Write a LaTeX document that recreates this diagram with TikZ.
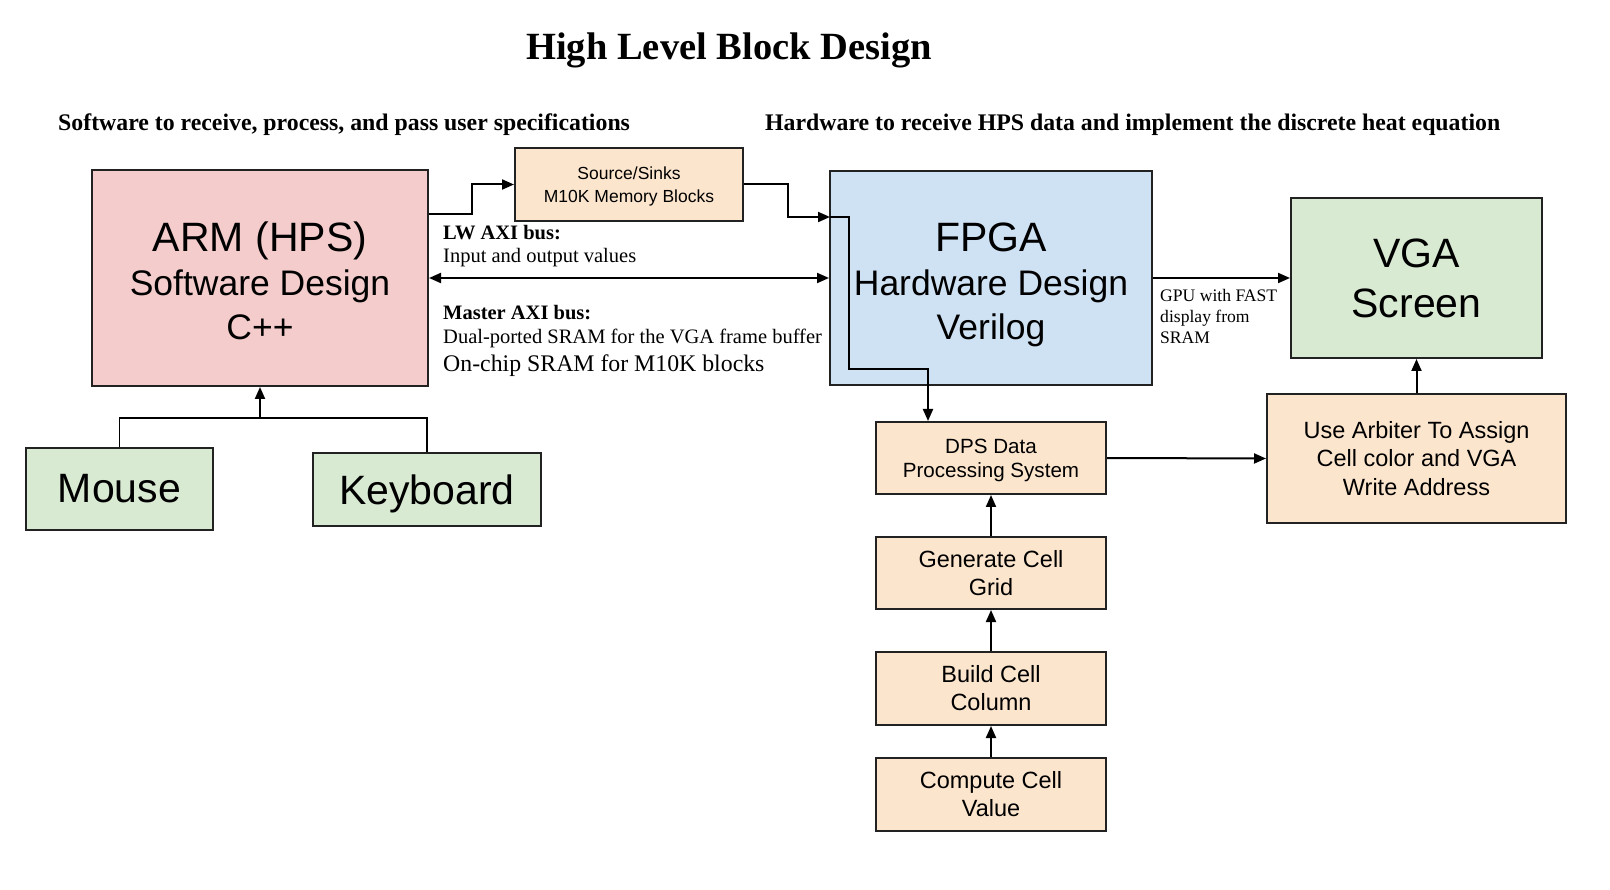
\documentclass[tikz,border=0pt]{standalone}
\usepackage{fontspec}
\setmainfont{Liberation Serif}
\newfontfamily\arial{Liberation Sans}
\usetikzlibrary{arrows.meta}
\newcommand{\fsz}[2]{\fontsize{#1}{#2}\selectfont}
\definecolor{pinkF}{HTML}{F4CCCC}
\definecolor{blueF}{HTML}{CFE2F3}
\definecolor{greenF}{HTML}{D9EAD3}
\definecolor{orangeF}{HTML}{FCE5CD}
\definecolor{edge}{HTML}{222222}
\begin{document}
\begin{tikzpicture}[x=1pt,y=-1pt,
  box/.style={draw=edge, line width=2pt, align=center, inner sep=0pt},
  conn/.style={draw=black, line width=2pt},
  thinconn/.style={draw=black, line width=1.6pt},
  arr/.style={conn, -{Triangle[length=12pt,width=10pt]}},
  biarr/.style={conn, {Triangle[length=12pt,width=10pt]}-{Triangle[length=12pt,width=10pt]}},
  lbl/.style={inner sep=0pt, anchor=west, align=left},
  boxtext/.style={inner sep=0pt, align=center}
]
\useasboundingbox (0,0) rectangle (1610,890);

% titles
\node[inner sep=0pt, font=\fsz{38.5}{44}\bfseries] (title) at (729,50) {High Level Block Design};
\node[lbl, font=\fsz{23.8}{28}\bfseries] (subL) at (58,125) {Software to receive, process, and pass user specifications};
\node[lbl, font=\fsz{23.8}{28}\bfseries] (subR) at (765,125) {Hardware to receive HPS data and implement the discrete heat equation};

% boxes
\node[box, fill=pinkF, minimum width=336pt, minimum height=216pt] (ARM) at (260,278) {};
\node[boxtext, font=\arial\fsz{35.5}{44}] (ARMt) at ([yshift=-3pt]ARM.center)
  {{\fsz{41}{45}ARM (HPS)}\\Software Design\\C++};
\node[box, fill=orangeF, minimum width=228pt, minimum height=73pt, font=\arial\fsz{17.5}{23}, text depth=0pt] (Src) at (629,184.5)
  {Source/Sinks\\M10K Memory Blocks};
\node[box, fill=blueF, minimum width=322pt, minimum height=214pt] (FPGA) at (991,278) {};
\node[boxtext, font=\arial\fsz{35.5}{44}] (FPGAt) at ([yshift=-7pt]FPGA.center)
  {{\fsz{41}{45}FPGA}\\Hardware Design\\Verilog};
\node[box, fill=greenF, minimum width=251pt, minimum height=160pt, font=\arial\fsz{41}{50}] (VGA) at (1416.5,278)
  {VGA\\Screen};
\node[box, fill=orangeF, minimum width=299pt, minimum height=129pt, font=\arial\fsz{23.5}{28.5}] (Arb) at (1416.5,458.5)
  {Use Arbiter To Assign\\Cell color and VGA\\Write Address};
\node[box, fill=orangeF, minimum width=230pt, minimum height=72pt, font=\arial\fsz{20.6}{24}, text depth=0pt] (DPS) at (991,458)
  {DPS Data\\Processing System};
\node[box, fill=orangeF, minimum width=230pt, minimum height=72pt, font=\arial\fsz{23.5}{28}] (Gen) at (991,573)
  {Generate Cell\\Grid};
\node[box, fill=orangeF, minimum width=230pt, minimum height=73pt, font=\arial\fsz{23.5}{28}] (Build) at (991,688.5)
  {Build Cell\\Column};
\node[box, fill=orangeF, minimum width=230pt, minimum height=73pt, font=\arial\fsz{23.5}{28}] (Comp) at (991,794.5)
  {Compute Cell\\Value};
\node[box, fill=greenF, minimum width=187pt, minimum height=82pt, font=\arial\fsz{41}{45}] (Mouse) at (119.5,489)
  {Mouse};
\node[box, fill=greenF, minimum width=228pt, minimum height=73pt, font=\arial\fsz{41}{45}, text depth=0pt] (Key) at (427,489.5)
  {Keyboard};

% labels
\node[lbl, font=\fsz{20.5}{24}\bfseries] (lw1) at (443,233) {LW AXI bus:};
\node[lbl, font=\fsz{20.5}{24}] (lw2) at (443,258) {Input and output values};
\node[lbl, font=\fsz{20.5}{24}\bfseries] (ma1) at (443,313) {Master AXI bus:};
\node[lbl, font=\fsz{20.5}{24}] (ma2) at (443,338) {Dual-ported SRAM for the VGA frame buffer};
\node[lbl, font=\fsz{23.8}{28}] (ma3) at (443,366) {On-chip SRAM for M10K blocks};
\node[lbl, anchor=north west, font=\fsz{17.6}{21}] (gpu) at (1160,289) {GPU with FAST\\display from\\SRAM};

% connector coordinates
\coordinate (a1) at (472,214);
\coordinate (a2) at (472,184.5);
\coordinate (b1) at (788,184.5);
\coordinate (b2) at (788,217);
\coordinate (b3) at (830,217);
\coordinate (c1) at (849,217);
\coordinate (c2) at (849,369);
\coordinate (c3) at (928,369);
\coordinate (j) at (260,418);

% connectors
\draw[arr] (ARM.east |- a1) -- (a1) -- (a2) -- (Src.west);
\draw[arr] (Src.east) -- (b1) -- (b2) -- (b3);
\draw[arr] (b3) -- (c1) -- (c2) -- (c3) -- (c3 |- DPS.north);
\draw[biarr] (ARM.east) -- (FPGA.west);
\draw[arr] (FPGA.east) -- (VGA.west);
\draw[arr] (DPS.east) -- (Arb.west);
\draw[arr] (Arb.north) -- (VGA.south);
\draw[arr] (Gen.north) -- (DPS.south);
\draw[arr] (Build.north) -- (Gen.south);
\draw[arr] (Comp.north) -- (Build.south);
\draw[thinconn] (Mouse.north) |- (j) -| (Key.north);
\draw[arr] (j) -- (ARM.south);
\end{tikzpicture}
\end{document}
